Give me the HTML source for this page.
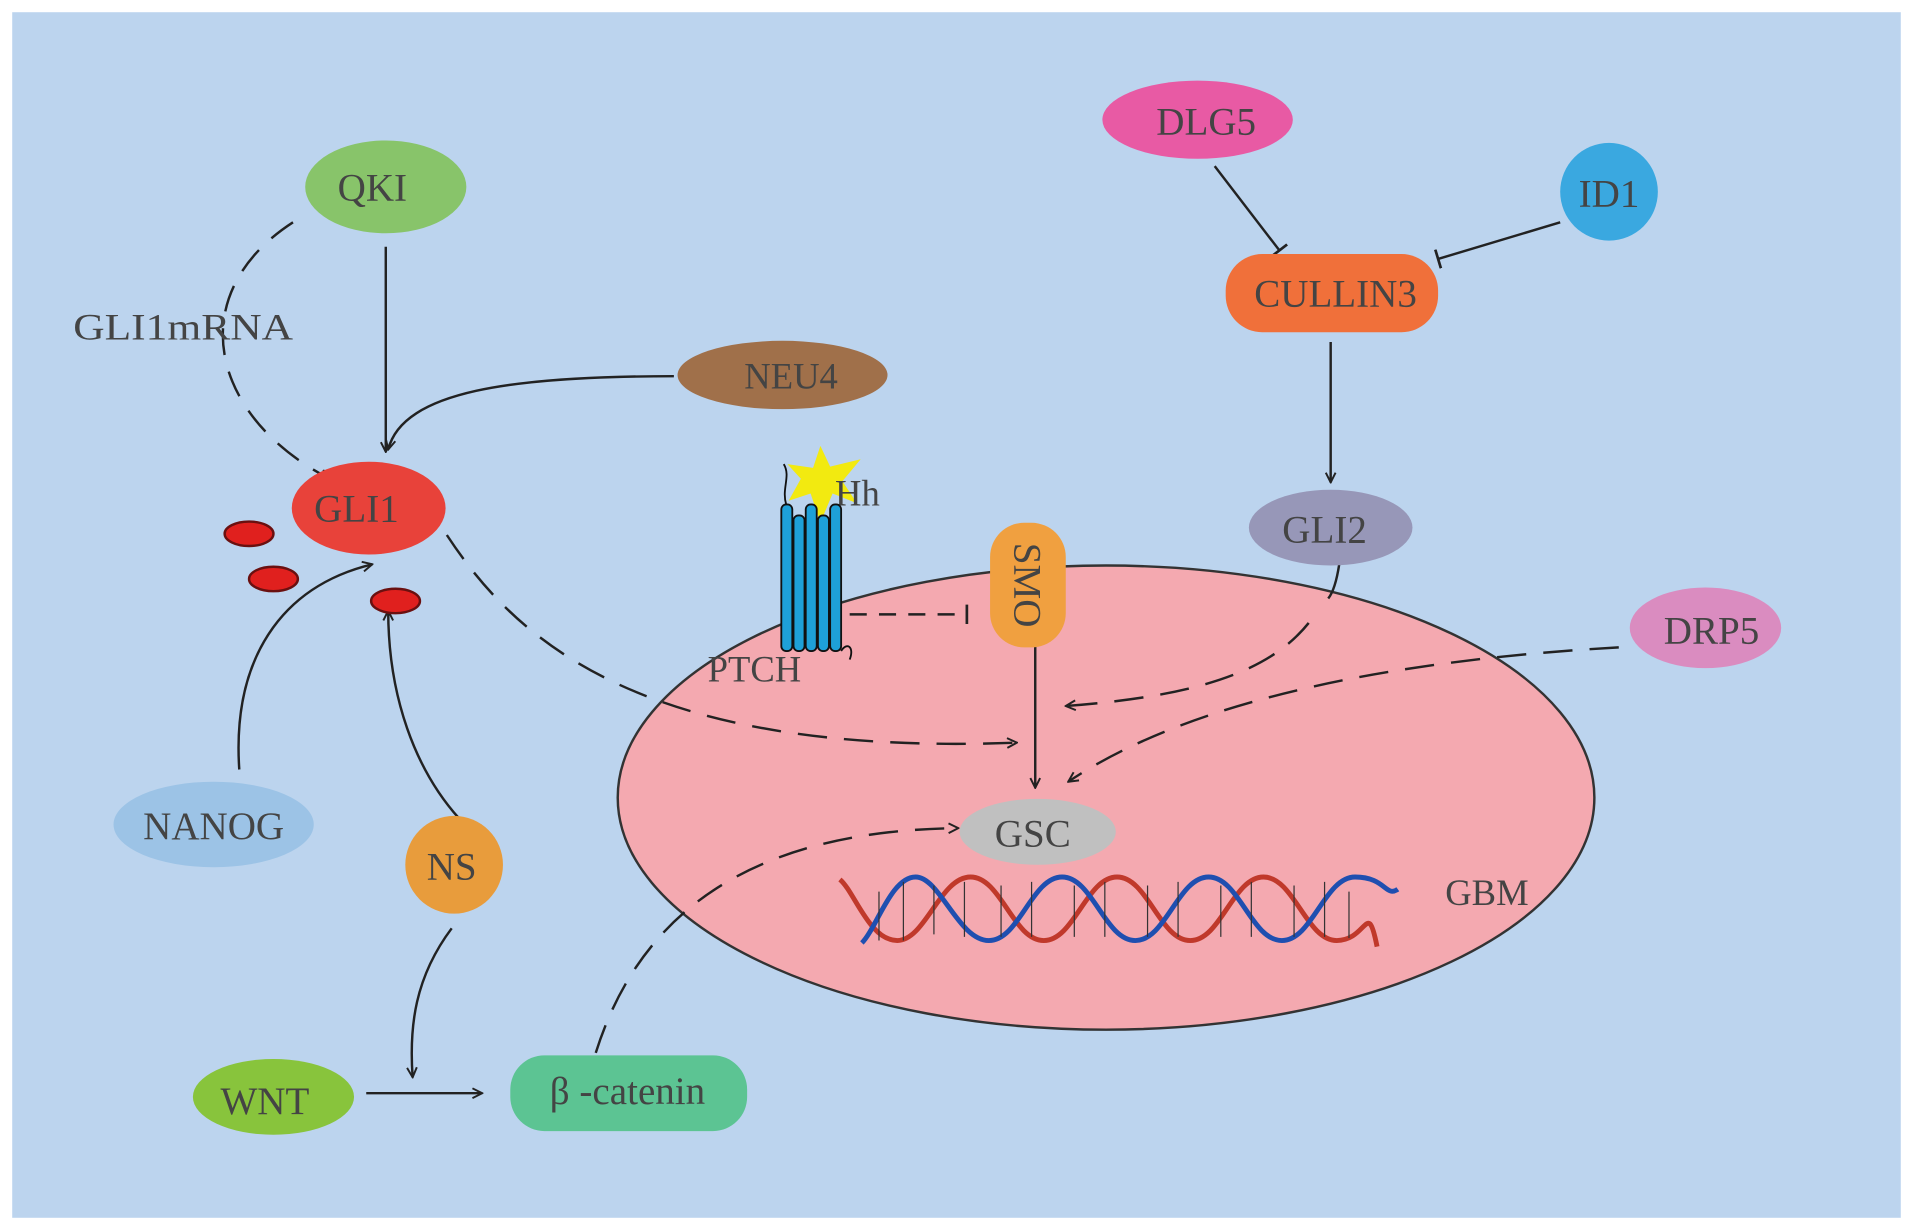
<!DOCTYPE html>
<html><head><meta charset="utf-8"><style>html,body{margin:0;padding:0;background:#fff}svg{display:block}text{font-family:"Liberation Serif",serif;fill:#444}</style></head>
<body>
<svg width="1913" height="1230" viewBox="0 0 1567 1007" preserveAspectRatio="none" xmlns="http://www.w3.org/2000/svg">
<defs>
<marker id="a" markerWidth="10" markerHeight="10" refX="9" refY="5" orient="auto" markerUnits="userSpaceOnUse"><path d="M1,1 L9,5 L1,9" fill="none" stroke="#222" stroke-width="1.6"/></marker>
<marker id="t" markerWidth="4" markerHeight="16" refX="2" refY="8" orient="auto" markerUnits="userSpaceOnUse"><path d="M2,0 L2,16" stroke="#222" stroke-width="2.2"/></marker>
</defs>
<rect x="0" y="0" width="1567" height="1007" fill="#fff"/>
<rect x="10" y="10" width="1547" height="987" fill="#bcd4ee"/>
<ellipse cx="906" cy="653" rx="400" ry="190" fill="#f4a9b0" stroke="#333" stroke-width="2"/>

<g fill="none" stroke="#222" stroke-width="2">
<path d="M240,182 C150,240 170,340 270,392" stroke-dasharray="22,14" marker-end="url(#a)"/>
<path d="M316,202 L316,370" marker-end="url(#a)"/>
<path d="M552,308 C420,308 330,320 318,368" marker-end="url(#a)"/>
<path d="M196,630 C190,540 230,480 305,462" marker-end="url(#a)"/>
<path d="M376,670 C340,630 318,570 318,500" marker-end="url(#a)"/>
<path d="M370,760 C340,800 335,840 338,882" marker-end="url(#a)"/>
<path d="M300,895 L395,895" marker-end="url(#a)"/>
<path d="M366,438 C420,520 520,620 833,608" stroke-dasharray="24,14" marker-end="url(#a)"/>
<path d="M488,862 C520,760 600,680 785,678" stroke-dasharray="24,14" marker-end="url(#a)"/>
<path d="M696,503 L792,503" stroke-dasharray="14,10" marker-end="url(#t)"/>
<path d="M848,520 L848,645" marker-end="url(#a)"/>
<path d="M1097,462 C1095,475 1092,485 1088,490"/>
<path d="M1072,510 C1040,550 980,570 873,578" stroke-dasharray="24,14" marker-end="url(#a)"/>
<path d="M1326,530 C1150,540 980,570 875,640" stroke-dasharray="24,14" marker-end="url(#a)"/>
<path d="M1090,280 L1090,395" marker-end="url(#a)"/>
<path d="M995,136 L1048,205" marker-end="url(#t)"/>
<path d="M1278,182 L1178,212" marker-end="url(#t)"/>
</g>

<ellipse cx="316" cy="153" rx="66" ry="38" fill="#88c46a"/>
<text x="305" y="164" font-size="32" text-anchor="middle">QKI</text>
<text x="60" y="278" font-size="30" textLength="180" lengthAdjust="spacingAndGlyphs" fill="#555">GLI1mRNA</text>
<ellipse cx="641" cy="307" rx="86" ry="28" fill="#a0704a"/>
<text x="648" y="318" font-size="30" text-anchor="middle">NEU4</text>
<ellipse cx="302" cy="416" rx="63" ry="38" fill="#e8423a"/>
<text x="292" y="427" font-size="32" text-anchor="middle" fill="#555">GLI1</text>
<g fill="#e0201e" stroke="#6a1010" stroke-width="2">
<ellipse cx="204" cy="437" rx="20" ry="10"/><ellipse cx="224" cy="474" rx="20" ry="10"/><ellipse cx="324" cy="492" rx="20" ry="10"/>
</g>
<ellipse cx="175" cy="675" rx="82" ry="35" fill="#9cc3e6"/>
<text x="175" y="687" font-size="32" text-anchor="middle">NANOG</text>
<ellipse cx="372" cy="708" rx="40" ry="40" fill="#e89c3c"/>
<text x="370" y="720" font-size="32" text-anchor="middle">NS</text>
<ellipse cx="224" cy="898" rx="66" ry="31" fill="#88c43c"/>
<text x="217" y="912" font-size="32" text-anchor="middle">WNT</text>
<rect x="418" y="864" width="194" height="62" rx="28" fill="#5cc493"/>
<text x="514" y="904" font-size="32" text-anchor="middle">β -catenin</text>

<ellipse cx="981" cy="98" rx="78" ry="32" fill="#e85aa4"/>
<text x="988" y="110" font-size="32" text-anchor="middle">DLG5</text>
<ellipse cx="1318" cy="157" rx="40" ry="40" fill="#3aa8e0"/>
<text x="1318" y="169" font-size="32" text-anchor="middle">ID1</text>
<rect x="1004" y="208" width="174" height="64" rx="30" fill="#f0703a"/>
<text x="1094" y="251" font-size="32" text-anchor="middle">CULLIN3</text>
<ellipse cx="1090" cy="432" rx="67" ry="31" fill="#9797b8"/>
<text x="1085" y="444" font-size="32" text-anchor="middle">GLI2</text>
<ellipse cx="1397" cy="514" rx="62" ry="33" fill="#da8cc0"/>
<text x="1402" y="527" font-size="32" text-anchor="middle">DRP5</text>

<rect x="811" y="428" width="62" height="102" rx="28" fill="#f0a040"/>
<text transform="translate(842,479) rotate(90)" font-size="32" text-anchor="middle" dy="11">SMO</text>
<ellipse cx="850" cy="681" rx="64" ry="27" fill="#c0c0c0"/>
<text x="846" y="693" font-size="32" text-anchor="middle">GSC</text>
<text x="1218" y="741" font-size="30" text-anchor="middle" fill="#555">GBM</text>
<text x="618" y="558" font-size="30" text-anchor="middle" fill="#555">PTCH</text>

<polygon points="672,365 680,382 705,376 690,394 702,412 682,404 672,428 664,404 646,410 656,392 645,380 666,383" fill="#f2ea10"/>
<text x="684" y="414" font-size="30" fill="#555">Hh</text>
<g fill="#1ea0d8" stroke="#111" stroke-width="1.5">
<rect x="640" y="413" width="9" height="120" rx="4"/><rect x="650" y="422" width="9" height="111" rx="4"/><rect x="660" y="413" width="9" height="120" rx="4"/><rect x="670" y="422" width="9" height="111" rx="4"/><rect x="680" y="413" width="9" height="120" rx="4"/>
</g>
<path d="M642,380 C648,390 640,400 644,413 M689,533 C694,525 700,530 696,540" fill="none" stroke="#111" stroke-width="1.5"/>

<g fill="none" stroke-width="4">
<path d="M688,720 C700,730 712,770 735,770 S770,718 795,718 S830,770 855,770 S890,718 915,718 S950,770 975,770 S1010,718 1035,718 S1070,770 1095,770 S1120,735 1128,775" stroke="#c0392b"/>
<path d="M706,772 C718,760 730,718 750,718 S785,770 810,770 S845,718 870,718 S905,770 930,770 S965,718 990,718 S1025,770 1050,770 S1085,718 1110,718 S1135,735 1145,728" stroke="#1f4fb0"/>
</g>
<g stroke="#333" stroke-width="1">
<path d="M720,730 v40 M740,722 v48 M765,725 v40 M790,722 v45 M820,725 v42 M845,722 v45 M880,725 v42 M905,722 v45 M940,725 v42 M965,722 v45 M1000,725 v42 M1025,722 v45 M1060,725 v42 M1085,722 v45 M1105,730 v38"/>
</g>
</svg>
</body></html>
